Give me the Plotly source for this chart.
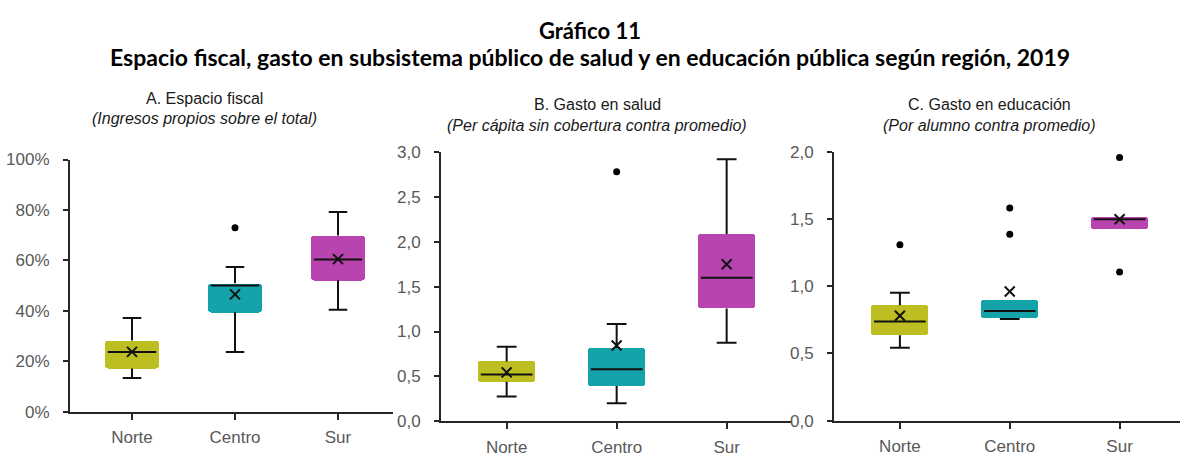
import plotly.graph_objects as go

# ---------------- data ----------------
regions = ["Norte", "Centro", "Sur"]
colors = ["#BDBE22", "#13A3A8", "#B844B0"]

# Panel A: Espacio fiscal (%)
a_lower = [13.3, 23.7, 40.4]
a_q1 = [17.1, 39.5, 52.1]
a_median = [23.7, 50.0, 60.3]
a_q3 = [28.2, 50.9, 69.9]
a_upper = [37.1, 57.4, 79.2]
a_mean = [23.7, 46.5, 60.5]
a_outliers = [[], [72.9], []]

# Panel B: Gasto en salud
b_lower = [0.275, 0.20, 0.876]
b_q1 = [0.44, 0.392, 1.258]
b_median = [0.52, 0.58, 1.60]
b_q3 = [0.666, 0.816, 2.087]
b_upper = [0.83, 1.083, 2.92]
b_mean = [0.545, 0.844, 1.75]
b_outliers = [[], [2.78], []]

# Panel C: Gasto en educación
c_lower = [0.543, 0.757, 1.429]
c_q1 = [0.636, 0.764, 1.429]
c_median = [0.738, 0.816, 1.50]
c_q3 = [0.859, 0.90, 1.519]
c_upper = [0.952, 0.90, 1.519]
c_mean = [0.781, 0.962, 1.50]
c_outliers = [[1.31], [1.583, 1.388], [1.96, 1.107]]

a_ticks = [0, 20, 40, 60, 80, 100]
b_ticks = [0, 0.5, 1.0, 1.5, 2.0, 2.5, 3.0]
c_ticks = [0, 0.5, 1.0, 1.5, 2.0]

title1 = "Gráfico 11"
title2 = "Espacio fiscal, gasto en subsistema público de salud y en educación pública según región, 2019"
sub_titles = ["A. Espacio fiscal", "B. Gasto en salud", "C. Gasto en educación"]
sub_notes = ["(Ingresos propios sobre el total)",
             "(Per cápita sin cobertura contra promedio)",
             "(Por alumno contra promedio)"]

# ---------------- layout geometry ----------------
W, H = 1181, 460
BOXW = 0.52
CAP = 0.09
MED = 0.235

panels = [
    dict(lower=a_lower, q1=a_q1, med=a_median, q3=a_q3, upper=a_upper, mean=a_mean, out=a_outliers,
         ticks=a_ticks, ticktext=[f"{t}%" for t in a_ticks], yr=[0, 100],
         px_x=(70, 393), px_y=(157, 420), xr=[-0.602, 2.534], sub_y=(93, 114), sub_x=204),
    dict(lower=b_lower, q1=b_q1, med=b_median, q3=b_q3, upper=b_upper, mean=b_mean, out=b_outliers,
         ticks=b_ticks, ticktext=[f"{t:.1f}".replace(".", ",") for t in b_ticks], yr=[0, 3],
         px_x=(441, 792), px_y=(149.3, 430), xr=[-0.597, 2.594], sub_y=(100, 122), sub_x=597),
    dict(lower=c_lower, q1=c_q1, med=c_median, q3=c_q3, upper=c_upper, mean=c_mean, out=c_outliers,
         ticks=c_ticks, ticktext=[f"{t:.1f}".replace(".", ",") for t in c_ticks], yr=[0, 2],
         px_x=(834, 1180), px_y=(149.3, 429.3), xr=[-0.6, 2.55], sub_y=(100, 122), sub_x=989),
]

fig = go.Figure()
font_family = "Arial"
axis_col = "#262626"
tick_col = "#595959"

for i, p in enumerate(panels):
    sfx = "" if i == 0 else str(i + 1)
    xa, ya = "x" + sfx, "y" + sfx
    pos = list(range(len(regions)))

    # whiskers (drawn first so boxes sit on top of the stems)
    wx, wy = [], []
    for k in pos:
        if p["upper"][k] > p["q3"][k]:
            wx += [k, k, None, k - CAP, k + CAP, None]
            wy += [p["q3"][k], p["upper"][k], None, p["upper"][k], p["upper"][k], None]
        if p["lower"][k] < p["q1"][k]:
            wx += [k, k, None, k - CAP, k + CAP, None]
            wy += [p["q1"][k], p["lower"][k], None, p["lower"][k], p["lower"][k], None]
    fig.add_trace(go.Scatter(x=wx, y=wy, mode="lines", line=dict(color="#111", width=2),
                             xaxis=xa, yaxis=ya, showlegend=False, hoverinfo="skip"))

    # boxes (interquartile range)
    fig.add_trace(go.Bar(x=pos, base=p["q1"], y=[p["q3"][k] - p["q1"][k] for k in pos],
                         width=BOXW, marker=dict(color=colors, line=dict(width=0), cornerradius=3),
                         xaxis=xa, yaxis=ya, showlegend=False))

    # medians
    mx, my = [], []
    for k in pos:
        mx += [k - MED, k + MED, None]
        my += [p["med"][k], p["med"][k], None]
    fig.add_trace(go.Scatter(x=mx, y=my, mode="lines", line=dict(color="#111", width=2),
                             xaxis=xa, yaxis=ya, showlegend=False, hoverinfo="skip"))

    # means
    fig.add_trace(go.Scatter(x=pos, y=p["mean"], mode="markers",
                             marker=dict(symbol="x-thin", size=10, line=dict(color="#111", width=2)),
                             xaxis=xa, yaxis=ya, showlegend=False))

    # outliers
    ox, oy = [], []
    for k in pos:
        for v in p["out"][k]:
            ox.append(k)
            oy.append(v)
    fig.add_trace(go.Scatter(x=ox, y=oy, mode="markers", marker=dict(color="#000", size=7),
                             xaxis=xa, yaxis=ya, showlegend=False))

    x0, x1 = p["px_x"]
    yt, yb = p["px_y"]
    fig.layout["xaxis" + sfx] = dict(
        domain=[x0 / W, x1 / W], range=p["xr"], anchor=ya,
        tickmode="array", tickvals=pos, ticktext=regions,
        showline=True, linecolor=axis_col, linewidth=2,
        ticks="outside", ticklen=6, tickwidth=1.5, tickcolor=axis_col,
        ticklabelstandoff=3,
        showgrid=False, zeroline=False,
        tickfont=dict(family=font_family, size=17, color=tick_col),
    )
    fig.layout["yaxis" + sfx] = dict(
        domain=[(H - yb) / H, (H - yt) / H], range=p["yr"], anchor=xa,
        tickmode="array", tickvals=p["ticks"], ticktext=p["ticktext"],
        showline=True, linecolor=axis_col, linewidth=2,
        ticks="outside", ticklen=5, tickwidth=1.5, tickcolor=axis_col,
        ticklabelstandoff=10,
        showgrid=False, zeroline=False,
        tickfont=dict(family=font_family, size=17, color=tick_col),
    )

    cx = p["sub_x"] / W
    fig.add_annotation(text=sub_titles[i], x=cx, y=1 - p["sub_y"][0] / H, xref="paper", yref="paper",
                       showarrow=False, xanchor="center", yanchor="middle",
                       font=dict(family=font_family, size=16, color="#1a1a1a"))
    fig.add_annotation(text="<i>" + sub_notes[i] + "</i>", x=cx, y=1 - p["sub_y"][1] / H,
                       xref="paper", yref="paper", showarrow=False, xanchor="center", yanchor="middle",
                       font=dict(family=font_family, size=16, color="#1a1a1a"))

title_font = "Lato"
fig.add_annotation(text="<b>" + title1 + "</b>", x=590 / W, y=1 - 22 / H, xref="paper", yref="paper",
                   showarrow=False, xanchor="center", yanchor="middle",
                   font=dict(family=title_font, size=22, color="#000"))
fig.add_annotation(text="<b>" + title2 + "</b>", x=590 / W, y=1 - 50 / H, xref="paper", yref="paper",
                   showarrow=False, xanchor="center", yanchor="middle",
                   font=dict(family=title_font, size=23, color="#000"))

fig.update_layout(width=W, height=H, margin=dict(l=0, r=0, t=0, b=0),
                  plot_bgcolor="white", paper_bgcolor="white", bargap=0, showlegend=False)

fig.write_html("out.html", config={"displayModeBar": False},
               post_script="document.body.style.margin='0px';")
